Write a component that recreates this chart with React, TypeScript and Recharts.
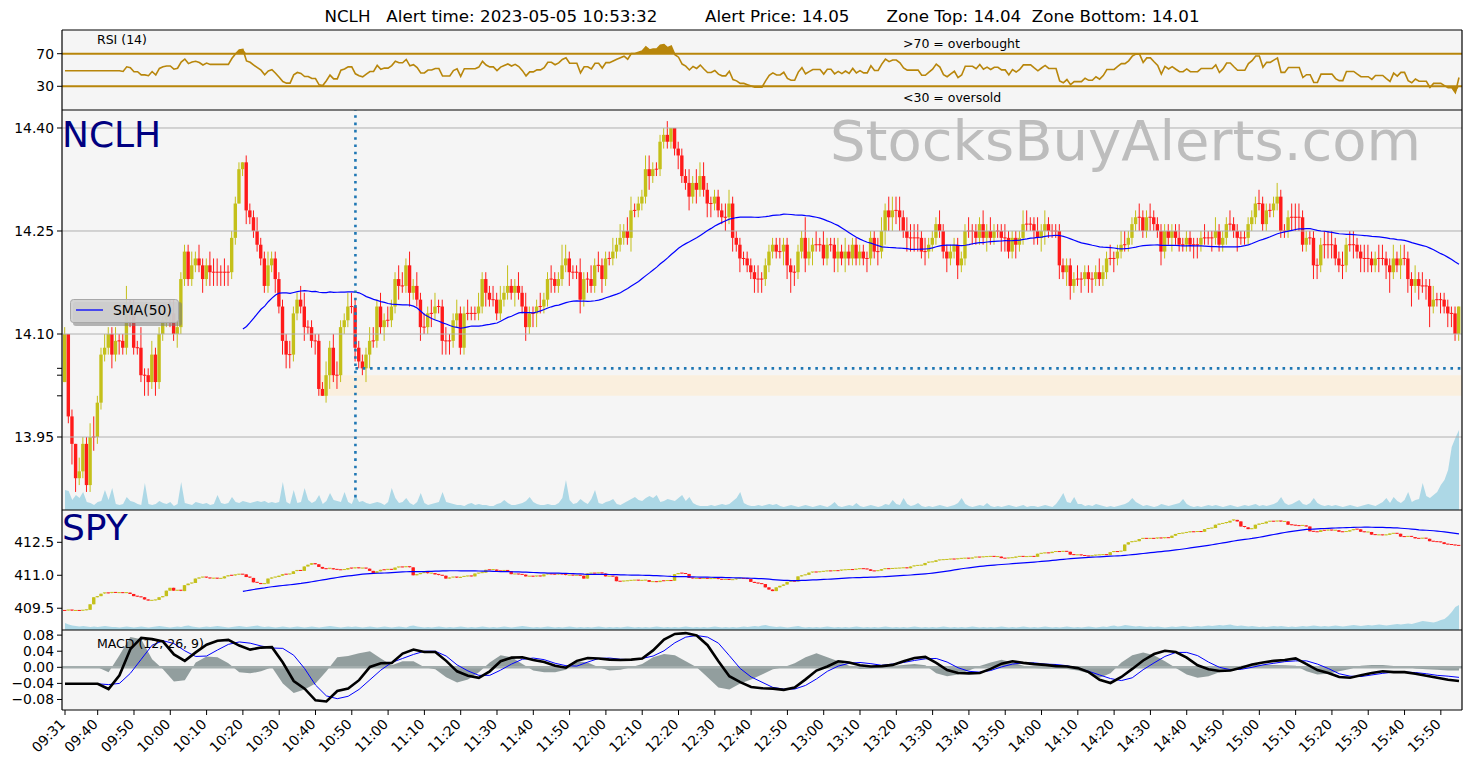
import React from 'react';
import { ComposedChart, Bar, Line, Area, XAxis, YAxis, ReferenceLine, ReferenceArea } from 'recharts';

// ---- values ----
const TIME_TICKS = ['09:31', '09:40', '09:50', '10:00', '10:10', '10:20', '10:30', '10:40', '10:50', '11:00', '11:10', '11:20', '11:30', '11:40', '11:50', '12:00', '12:10', '12:20', '12:30', '12:40', '12:50', '13:00', '13:10', '13:20', '13:30', '13:40', '13:50', '14:00', '14:10', '14:20', '14:30', '14:40', '14:50', '15:00', '15:10', '15:20', '15:30', '15:40', '15:50'];

// NCLH one-minute closes, cents above 14.00 (open = previous close)
const NC_OPEN_FIRST = 3;
const NC_CLOSE = [
  10, -2, -6, -11, -10, -6, -12, -5, -5, 0,
  7, 8, 10, 7, 9, 9, 8, 14, 13, 8,
  8, 4, 4, 3, 7, 3, 10, 12, 13, 13,
  10, 11, 18, 22, 18, 20, 21, 20, 18, 20,
  19, 19, 19, 19, 19, 19, 24, 29, 34, 35,
  28, 27, 25, 23, 21, 17, 20, 21, 18, 14,
  9, 7, 7, 13, 15, 14, 11, 11, 9, 9,
  2, 1, 4, 8, 4, 4, 11, 12, 14, 14,
  8, 6, 5, 7, 9, 9, 14, 11, 12, 12,
  14, 18, 17, 17, 20, 16, 17, 15, 11, 11,
  13, 13, 14, 14, 9, 9, 9, 12, 13, 8,
  13, 13, 13, 13, 14, 18, 16, 15, 15, 13,
  15, 16, 17, 16, 17, 16, 14, 11, 13, 13,
  14, 14, 15, 18, 18, 17, 18, 20, 21, 19,
  19, 19, 15, 18, 18, 17, 20, 20, 18, 21,
  21, 22, 23, 24, 25, 24, 28, 28, 29, 30,
  34, 33, 34, 34, 38, 39, 38, 40, 37, 36,
  33, 32, 30, 32, 31, 33, 31, 29, 29, 30,
  28, 27, 27, 29, 24, 23, 21, 21, 20, 19,
  18, 18, 18, 20, 22, 23, 22, 22, 23, 20,
  19, 19, 22, 24, 21, 22, 23, 23, 23, 21,
  23, 23, 21, 22, 21, 22, 21, 23, 21, 22,
  21, 21, 24, 22, 22, 25, 28, 27, 28, 28,
  27, 25, 24, 24, 24, 24, 22, 22, 23, 24,
  26, 25, 22, 21, 22, 23, 20, 21, 25, 25,
  25, 24, 26, 24, 25, 24, 25, 25, 24, 24,
  22, 24, 23, 24, 26, 26, 26, 25, 24, 25,
  26, 25, 25, 25, 20, 19, 20, 17, 18, 18,
  18, 19, 18, 18, 19, 18, 19, 21, 21, 21,
  22, 23, 23, 24, 26, 27, 27, 25, 27, 27,
  26, 25, 22, 25, 24, 25, 24, 23, 23, 24,
  23, 23, 23, 24, 24, 24, 24, 25, 23, 24,
  26, 26, 25, 24, 24, 24, 26, 27, 29, 29,
  26, 28, 28, 29, 30, 25, 25, 27, 27, 27,
  27, 23, 24, 24, 20, 20, 23, 23, 23, 23,
  21, 20, 20, 23, 23, 23, 22, 21, 21, 21,
  20, 21, 21, 21, 20, 19, 21, 20, 21, 21,
  18, 17, 18, 17, 17, 17, 14, 15, 15, 15,
  14, 13, 13, 10, 14,
];
// upper / lower wick beyond the body, cents
const NC_HI = [
  1, 0, 1, 0, 2, 1, 1, 2, 3, 1, 1, 2, 1, 1, 2, 1, 1, 3, 1, 2,
  1, 3, 1, 1, 2, 1, 1, 2, 1, 2, 2, 1, 1, 1, 1, 2, 1, 2, 1, 1,
  2, 2, 2, 1, 2, 1, 1, 1, 1, 0, 1, 1, 1, 2, 1, 1, 2, 1, 1, 1,
  1, 1, 2, 1, 1, 2, 2, 1, 1, 1, 1, 1, 2, 1, 2, 2, 1, 1, 2, 2,
  1, 1, 1, 1, 2, 2, 1, 2, 1, 2, 1, 1, 2, 2, 1, 2, 1, 2, 1, 2,
  1, 2, 2, 1, 1, 2, 1, 1, 2, 1, 1, 2, 1, 1, 2, 1, 1, 1, 2, 1,
  2, 1, 3, 1, 1, 2, 1, 2, 1, 1, 1, 2, 1, 1, 2, 1, 1, 3, 2, 1,
  1, 1, 2, 1, 1, 2, 1, 2, 1, 1, 1, 2, 1, 2, 1, 2, 2, 1, 1, 1,
  2, 2, 1, 1, 1, 1, 2, 0, 0, 1, 1, 1, 2, 1, 2, 2, 2, 1, 1, 1,
  1, 1, 2, 2, 1, 1, 1, 1, 1, 1, 1, 2, 1, 1, 1, 1, 1, 2, 1, 1,
  1, 1, 1, 1, 3, 2, 1, 2, 1, 2, 1, 1, 1, 2, 1, 2, 1, 1, 1, 1,
  1, 1, 1, 1, 2, 2, 1, 2, 2, 2, 2, 1, 2, 2, 2, 2, 1, 2, 1, 1,
  1, 2, 1, 1, 1, 1, 1, 1, 1, 2, 1, 1, 1, 2, 1, 2, 1, 1, 1, 2,
  1, 1, 1, 1, 2, 2, 1, 1, 2, 1, 2, 1, 1, 1, 1, 1, 1, 1, 1, 2,
  1, 1, 1, 1, 1, 2, 1, 1, 2, 1, 1, 2, 2, 1, 1, 1, 2, 1, 1, 2,
  1, 1, 1, 1, 1, 1, 1, 2, 1, 1, 1, 1, 1, 1, 2, 1, 1, 2, 1, 1,
  1, 2, 1, 1, 1, 1, 1, 1, 1, 2, 1, 1, 1, 1, 2, 1, 1, 1, 2, 2,
  2, 1, 1, 1, 1, 1, 1, 2, 2, 2, 1, 1, 2, 1, 2, 2, 1, 1, 2, 2,
  1, 1, 2, 2, 1, 1, 2, 1, 2, 2, 1, 1, 2, 1, 2, 1, 1, 2, 1, 1,
  1, 1, 1, 1, 0,
];
const NC_LO = [
  0, 1, 3, 2, 1, 1, 1, 1, 2, 1, 1, 1, 1, 2, 1, 2, 1, 1, 2, 1,
  1, 1, 3, 2, 1, 2, 1, 1, 1, 2, 1, 2, 1, 1, 1, 1, 1, 1, 2, 1,
  2, 2, 2, 2, 2, 2, 1, 1, 0, 1, 2, 1, 1, 1, 1, 1, 1, 1, 2, 1,
  2, 2, 2, 1, 1, 1, 2, 1, 1, 2, 1, 0, 1, 2, 1, 2, 1, 1, 1, 1,
  2, 1, 1, 2, 2, 1, 1, 1, 2, 1, 1, 1, 2, 1, 1, 2, 1, 1, 2, 1,
  1, 2, 1, 1, 2, 2, 2, 1, 1, 1, 1, 1, 1, 1, 1, 1, 2, 1, 1, 1,
  1, 1, 1, 1, 2, 1, 1, 2, 1, 2, 2, 1, 1, 1, 2, 1, 1, 1, 1, 2,
  1, 1, 2, 1, 2, 1, 1, 1, 2, 1, 1, 1, 1, 1, 1, 1, 2, 1, 1, 1,
  1, 2, 1, 1, 1, 1, 1, 1, 1, 2, 1, 1, 2, 1, 2, 1, 1, 2, 2, 1,
  1, 1, 2, 1, 2, 1, 2, 1, 1, 1, 2, 2, 2, 1, 1, 1, 1, 1, 2, 2,
  3, 2, 1, 1, 2, 1, 2, 1, 1, 1, 1, 1, 2, 2, 1, 2, 1, 1, 1, 1,
  1, 2, 1, 1, 2, 1, 2, 2, 2, 2, 2, 1, 2, 2, 2, 2, 1, 2, 1, 1,
  1, 1, 1, 2, 1, 1, 2, 1, 1, 1, 2, 1, 1, 1, 2, 1, 1, 1, 2, 2,
  1, 1, 2, 1, 1, 1, 1, 2, 1, 2, 2, 1, 1, 1, 2, 1, 2, 2, 1, 1,
  2, 1, 2, 2, 1, 1, 1, 1, 1, 2, 1, 1, 1, 1, 1, 1, 2, 1, 1, 2,
  1, 1, 2, 1, 1, 2, 1, 1, 1, 1, 1, 2, 2, 1, 1, 1, 2, 1, 1, 1,
  1, 1, 1, 2, 1, 1, 1, 1, 1, 1, 1, 1, 1, 1, 1, 1, 1, 1, 2, 2,
  2, 1, 1, 1, 2, 2, 1, 2, 2, 2, 1, 1, 2, 1, 1, 2, 1, 2, 2, 2,
  1, 1, 2, 1, 2, 3, 1, 1, 2, 1, 2, 3, 1, 2, 1, 2, 3, 1, 1, 2,
  1, 2, 2, 1, 1,
];
// NCLH volume, thousand shares
const NC_VOL = [
  100, 95, 50, 75, 60, 90, 40, 35, 25, 40, 45, 100, 50, 110, 30, 25, 30, 65, 45, 40,
  30, 25, 135, 30, 25, 30, 45, 35, 30, 40, 20, 30, 140, 35, 30, 25, 40, 35, 30, 35,
  25, 30, 75, 35, 30, 35, 65, 40, 35, 45, 40, 35, 40, 45, 40, 45, 35, 40, 35, 40,
  140, 40, 30, 100, 35, 40, 110, 50, 35, 45, 75, 30, 45, 85, 50, 45, 40, 90, 40, 30,
  75, 40, 45, 35, 30, 35, 40, 35, 25, 40, 110, 60, 35, 40, 60, 35, 25, 40, 85, 35,
  25, 30, 35, 40, 90, 40, 35, 30, 25, 25, 20, 30, 35, 25, 30, 25, 25, 20, 20, 30,
  35, 50, 35, 25, 25, 30, 35, 45, 65, 40, 30, 25, 25, 30, 25, 25, 35, 60, 150, 50,
  30, 35, 55, 40, 30, 55, 100, 35, 30, 40, 45, 55, 30, 25, 35, 45, 55, 65, 50, 45,
  60, 70, 60, 75, 40, 45, 55, 50, 45, 60, 75, 45, 65, 35, 25, 20, 20, 20, 25, 20,
  25, 30, 25, 30, 45, 60, 90, 35, 25, 20, 20, 25, 20, 25, 30, 25, 30, 20, 15, 20,
  25, 20, 15, 20, 25, 20, 15, 20, 25, 20, 15, 25, 40, 20, 15, 20, 25, 20, 35, 20,
  15, 20, 25, 20, 15, 20, 30, 25, 50, 30, 25, 60, 30, 20, 25, 35, 20, 15, 20, 15,
  20, 25, 20, 15, 20, 25, 35, 60, 30, 20, 15, 20, 25, 20, 35, 20, 15, 20, 15, 20,
  25, 20, 15, 20, 25, 15, 20, 20, 15, 20, 25, 20, 15, 30, 55, 85, 40, 35, 65, 30,
  30, 20, 25, 20, 30, 25, 20, 15, 20, 15, 20, 25, 30, 40, 60, 40, 30, 20, 25, 20,
  15, 20, 30, 25, 20, 25, 30, 35, 55, 30, 20, 15, 20, 15, 20, 25, 20, 25, 20, 15,
  20, 25, 20, 15, 20, 25, 20, 25, 30, 20, 25, 20, 25, 30, 40, 65, 35, 25, 30, 40,
  50, 30, 25, 35, 60, 35, 25, 20, 25, 20, 25, 20, 15, 20, 25, 20, 15, 20, 25, 30,
  25, 20, 30, 40, 60, 35, 65, 45, 35, 50, 90, 40, 50, 55, 135, 70, 60, 75, 90, 125,
  150, 200, 315, 360, 400,
];
// SPY one-minute closes, cents above 410.00
const SPY_OPEN_FIRST = -60;
const SPY_CLOSE = [
  -60, -58, -62, -60, -61, -59, -57, -32, 0, 5,
  16, 20, 18, 22, 20, 21, 19, 21, 15, 5,
  2, 0, -10, -15, -14, -12, 0, 5, 30, 43,
  30, 32, 28, 55, 62, 65, 85, 90, 92, 88,
  85, 87, 84, 86, 95, 100, 98, 102, 105, 104,
  92, 88, 68, 65, 60, 62, 85, 90, 92, 98,
  105, 104, 106, 118, 122, 120, 140, 148, 155, 150,
  138, 130, 128, 132, 127, 125, 124, 126, 133, 131,
  134, 132, 133, 130, 120, 110, 118, 125, 124, 127,
  125, 135, 138, 137, 139, 136, 100, 105, 110, 112,
  108, 110, 104, 100, 98, 85, 90, 92, 88, 93,
  95, 97, 95, 108, 110, 112, 125, 124, 126, 120,
  118, 122, 119, 105, 106, 104, 103, 95, 96, 94,
  97, 95, 104, 106, 105, 103, 106, 104, 100, 101,
  99, 100, 98, 85, 108, 110, 109, 111, 108, 95,
  96, 94, 73, 72, 74, 75, 77, 78, 76, 77,
  78, 70, 71, 69, 75, 74, 76, 75, 105, 110,
  108, 106, 88, 85, 86, 85, 86, 84, 85, 86,
  82, 80, 81, 79, 80, 84, 86, 85, 83, 70,
  65, 62, 60, 45, 35, 28, 45, 52, 58, 70,
  73, 72, 95, 100, 102, 112, 115, 114, 116, 118,
  120, 119, 121, 120, 124, 125, 126, 124, 128, 130,
  129, 127, 120, 119, 121, 128, 130, 129, 131, 132,
  133, 134, 132, 140, 143, 145, 146, 156, 160, 161,
  168, 170, 171, 172, 174, 173, 175, 177, 178, 176,
  181, 183, 182, 184, 185, 186, 184, 185, 178, 177,
  179, 180, 185, 186, 184, 185, 186, 184, 198, 200,
  202, 201, 207, 208, 206, 209, 207, 194, 192, 193,
  190, 188, 187, 189, 192, 193, 194, 192, 205, 208,
  207, 210, 240, 250, 253, 255, 265, 268, 267, 268,
  266, 270, 268, 271, 270, 280, 288, 290, 292, 295,
  298, 297, 299, 298, 310, 313, 315, 330, 335, 336,
  340, 348, 352, 345, 322, 318, 310, 312, 330, 335,
  336, 344, 346, 345, 347, 344, 345, 330, 328, 326,
  325, 327, 322, 300, 298, 297, 305, 303, 306, 304,
  305, 298, 297, 299, 305, 310, 309, 298, 296, 297,
  285, 283, 284, 282, 284, 290, 291, 289, 276, 275,
  277, 274, 268, 267, 269, 266, 255, 253, 252, 250,
  242, 240, 238, 236, 235,
];
// SPY volume, ten-thousand shares
const SPY_VOL = [
  70, 55, 45, 40, 35, 40, 35, 30, 35, 30, 35, 40, 35, 30, 30, 25, 30, 35, 30, 25,
  30, 35, 30, 25, 30, 35, 40, 35, 30, 25, 30, 35, 30, 40, 45, 35, 30, 25, 30, 35,
  30, 35, 40, 35, 30, 25, 30, 35, 40, 35, 30, 35, 40, 45, 35, 30, 35, 30, 25, 30,
  35, 30, 25, 30, 35, 30, 25, 30, 35, 30, 25, 30, 35, 40, 35, 30, 25, 30, 35, 30,
  35, 30, 25, 30, 35, 30, 25, 30, 35, 30, 25, 30, 35, 30, 25, 40, 45, 35, 30, 25,
  30, 25, 30, 35, 30, 25, 30, 25, 30, 35, 30, 25, 30, 25, 30, 35, 30, 25, 30, 25,
  30, 35, 30, 25, 30, 35, 40, 35, 30, 25, 30, 25, 30, 35, 30, 25, 30, 25, 30, 35,
  30, 25, 30, 25, 30, 25, 30, 35, 30, 25, 30, 25, 30, 25, 30, 35, 30, 25, 30, 25,
  30, 25, 30, 35, 30, 25, 30, 25, 30, 25, 30, 35, 30, 25, 30, 25, 30, 25, 30, 35,
  30, 25, 30, 25, 30, 25, 30, 35, 30, 35, 40, 35, 45, 50, 40, 35, 30, 35, 30, 25,
  30, 35, 40, 30, 25, 30, 25, 30, 25, 30, 35, 30, 25, 30, 25, 30, 25, 30, 35, 30,
  25, 30, 25, 30, 25, 30, 35, 30, 25, 30, 25, 30, 25, 30, 35, 30, 25, 30, 25, 30,
  25, 30, 35, 30, 25, 30, 25, 30, 25, 30, 35, 30, 25, 30, 25, 30, 25, 30, 35, 30,
  25, 30, 25, 30, 35, 30, 25, 30, 25, 30, 35, 30, 25, 30, 25, 30, 35, 30, 25, 30,
  25, 30, 35, 30, 25, 30, 35, 30, 40, 45, 35, 40, 50, 45, 40, 35, 40, 35, 30, 35,
  30, 35, 30, 25, 30, 35, 30, 35, 40, 35, 30, 35, 40, 35, 40, 45, 40, 45, 50, 45,
  50, 55, 45, 40, 45, 40, 35, 40, 35, 30, 35, 30, 35, 40, 35, 40, 35, 30, 35, 30,
  35, 40, 35, 40, 45, 40, 35, 40, 35, 40, 45, 40, 35, 40, 45, 50, 45, 40, 45, 50,
  45, 50, 55, 50, 45, 50, 55, 60, 55, 60, 65, 60, 70, 80, 90, 85, 80, 75, 85, 100,
  110, 140, 180, 230, 250,
];
// MACD (12, 26, 9) panel, read every 3 minutes from 09:31
const MACD_STEP = 3;
const MACD_LINE = [
  -0.041, -0.041, -0.041, -0.041, -0.054, -0.020, 0.045, 0.073, 0.070, 0.064,
  0.032, 0.016, 0.037, 0.056, 0.066, 0.068, 0.054, 0.044, 0.049, 0.050,
  0.012, -0.034, -0.053, -0.082, -0.085, -0.059, -0.053, -0.032, 0.001, 0.010,
  0.011, 0.034, 0.044, 0.038, 0.038, 0.016, -0.010, -0.021, -0.026, -0.010,
  0.015, 0.024, 0.025, 0.018, 0.013, 0.004, -0.001, 0.016, 0.023, 0.022,
  0.019, 0.018, 0.019, 0.022, 0.042, 0.069, 0.083, 0.085, 0.079, 0.055,
  0.015, -0.022, -0.037, -0.049, -0.052, -0.053, -0.056, -0.050, -0.030, -0.008,
  0.002, 0.015, 0.012, 0.005, 0.002, 0.003, 0.006, 0.015, 0.023, 0.026,
  0.011, -0.007, -0.014, -0.015, -0.014, -0.004, 0.009, 0.015, 0.011, 0.008,
  0.006, 0.003, 0.002, -0.002, -0.012, -0.031, -0.039, -0.024, -0.004, 0.017,
  0.033, 0.041, 0.038, 0.024, 0.005, -0.005, -0.009, -0.008, -0.001, 0.007,
  0.012, 0.016, 0.018, 0.022, 0.008, -0.007, -0.014, -0.024, -0.026, -0.020,
  -0.014, -0.010, -0.012, -0.012, -0.016, -0.021, -0.026, -0.031, -0.034,
];
const MACD_SIGNAL = [
  -0.041, -0.041, -0.041, -0.041, -0.043, -0.040, -0.015, 0.020, 0.055, 0.066,
  0.059, 0.041, 0.027, 0.028, 0.043, 0.057, 0.063, 0.060, 0.053, 0.048,
  0.047, 0.030, -0.003, -0.044, -0.071, -0.078, -0.072, -0.055, -0.031, -0.007,
  0.012, 0.022, 0.032, 0.040, 0.040, 0.028, 0.006, -0.009, -0.020, -0.020,
  -0.007, 0.008, 0.020, 0.023, 0.019, 0.010, 0.004, 0.003, 0.013, 0.022,
  0.023, 0.020, 0.019, 0.022, 0.028, 0.041, 0.061, 0.075, 0.079, 0.075,
  0.060, 0.029, -0.003, -0.024, -0.037, -0.050, -0.054, -0.054, -0.045, -0.029,
  -0.010, 0.003, 0.010, 0.012, 0.009, 0.005, 0.008, 0.012, 0.017, 0.021,
  0.022, 0.013, -0.001, -0.010, -0.012, -0.008, 0.001, 0.008, 0.011, 0.011,
  0.008, 0.007, 0.004, -0.002, -0.010, -0.019, -0.028, -0.033, -0.026, -0.006,
  0.011, 0.027, 0.037, 0.037, 0.029, 0.013, 0.000, -0.006, -0.005, 0.000,
  0.006, 0.010, 0.014, 0.016, 0.016, 0.008, -0.003, -0.016, -0.022, -0.023,
  -0.019, -0.015, -0.012, -0.012, -0.013, -0.016, -0.020, -0.022, -0.025,
];
const MACD_HIST = [
  0, 0, 0, 0, -0.012, 0.030, 0.075, 0.070, 0.020, -0.005,
  -0.035, -0.032, 0.012, 0.027, 0.025, 0.010, -0.012, -0.015, -0.010, 0,
  -0.040, -0.064, -0.055, -0.040, -0.010, 0.025, 0.028, 0.035, 0.040, 0.022,
  0.005, 0.015, 0.015, 0, -0.005, -0.025, -0.038, -0.030, -0.012, 0.012,
  0.030, 0.025, 0.008, -0.008, -0.012, -0.012, -0.006, 0.015, 0.012, 0,
  -0.008, -0.006, 0, 0.008, 0.025, 0.033, 0.030, 0.015, 0, -0.025,
  -0.050, -0.055, -0.040, -0.030, -0.018, -0.005, 0, 0.010, 0.025, 0.035,
  0.025, 0.015, 0.004, -0.004, -0.003, 0, 0.003, 0.006, 0.008, 0.005,
  -0.015, -0.022, -0.018, -0.008, 0.003, 0.012, 0.019, 0.012, 0.004, -0.002,
  -0.003, -0.003, -0.004, -0.008, -0.015, -0.026, -0.015, 0.012, 0.030, 0.037,
  0.030, 0.015, -0.002, -0.018, -0.026, -0.022, -0.012, -0.004, 0.004, 0.006,
  0.006, 0.006, 0.005, 0.004, -0.010, -0.018, -0.016, -0.010, -0.004, 0.004,
  0.006, 0.006, 0.003, 0.002, -0.003, -0.005, -0.006, -0.008, -0.008,
];

const NC_PRICE_TICKS = [13.95, 14.1, 14.25, 14.4];
const NC_MARK_TICKS = [14.01, 14.04, 14.05];
const SPY_TICKS = [409.5, 411, 412.5];
const MACD_TICKS = [-0.08, -0.04, 0, 0.04, 0.08];
const RSI_TICKS = [30, 70];
const ALERT_IDX = 80;
const ALERT_PRICE = 14.05;
const ZONE_TOP = 14.04;
const ZONE_BOTTOM = 14.01;
const ZONE_FROM = 70;

// ---- look ----
const UP = '#c4c01a';
const DOWN = '#ff1a1a';
const GOLD = '#b8860b';
const PANEL = '#f5f5f5';
const FS = 13.9;
const W = 1476;
const X_DOMAIN: [number, number] = [-0.83, 384.83];
const MARGIN = { top: 0, right: 14, bottom: 0, left: 0 };

// ---- indicators ----
const mean = (a: number[]) => a.reduce((s, v) => s + v, 0) / a.length;
const sma = (v: number[], n: number) => v.map((_, i) => (i < n - 1 ? undefined : mean(v.slice(i - n + 1, i + 1))));
const rsiOf = (v: number[], n: number) => {
  const out: number[] = new Array(v.length).fill(0);
  let g = 0;
  let l = 0;
  for (let i = 1; i <= n; i++) {
    const d = v[i] - v[i - 1];
    if (d > 0) g += d; else l -= d;
  }
  g /= n;
  l /= n;
  out[n] = l === 0 ? 100 : 100 - 100 / (1 + g / l);
  for (let i = n + 1; i < v.length; i++) {
    const d = v[i] - v[i - 1];
    g = (g * (n - 1) + Math.max(d, 0)) / n;
    l = (l * (n - 1) + Math.max(-d, 0)) / n;
    out[i] = l === 0 ? 100 : 100 - 100 / (1 + g / l);
  }
  for (let i = 0; i < n; i++) out[i] = out[n];
  return out;
};

const ncClose = NC_CLOSE.map((c) => 14 + c / 100);
const spyClose = SPY_CLOSE.map((c) => 410 + c / 100);
const ncSma = sma(ncClose, 50);
const spySma = sma(spyClose, 50);
const rsi = rsiOf(ncClose, 14);

const data = NC_CLOSE.map((c, i) => {
  const nO = 14 + (i ? NC_CLOSE[i - 1] : NC_OPEN_FIRST) / 100;
  const nC = ncClose[i];
  const sO = 410 + (i ? SPY_CLOSE[i - 1] : SPY_OPEN_FIRST) / 100;
  const sC = spyClose[i];
  const k = i % MACD_STEP === 0 ? i / MACD_STEP : -1;
  return {
    i,
    nO, nC,
    nH: Math.max(nO, nC) + NC_HI[i] / 100,
    nL: Math.min(nO, nC) - NC_LO[i] / 100,
    vol: NC_VOL[i],
    sma: ncSma[i],
    sO, sC,
    sH: Math.max(sO, sC),
    sL: Math.min(sO, sC),
    svol: SPY_VOL[i],
    ssma: spySma[i],
    rsi: rsi[i],
    macd: k >= 0 ? MACD_LINE[k] : undefined,
    sig: k >= 0 ? MACD_SIGNAL[k] : undefined,
    hist: k >= 0 ? MACD_HIST[k] : undefined,
  };
});

const toMin = (t: string) => {
  const [h, m] = t.split(':').map(Number);
  return h * 60 + m - (9 * 60 + 31);
};
const TICK_IDX = TIME_TICKS.map(toMin);

const candle = (k: string) => (props: any) => {
  const { x, y, width, height, payload } = props;
  const o = payload[k + 'O'];
  const c = payload[k + 'C'];
  const h = payload[k + 'H'];
  const l = payload[k + 'L'];
  const mid = x + width / 2;
  const col = c > o ? UP : DOWN;
  const span = h - l;
  const py = (v: number) => (span > 0 ? y + ((h - v) / span) * height : y);
  const top = py(Math.max(o, c));
  const bot = py(Math.min(o, c));
  const bh = Math.max(bot - top, 1);
  return (
    <g>
      {span > 0 && <line x1={mid} x2={mid} y1={y} y2={y + height} stroke={col} strokeWidth={1} />}
      <rect x={mid - 1.7} y={bot - top < 1 ? top - 0.5 : top} width={3.4} height={bh} fill={col} />
    </g>
  );
};

const yTick = (fmt: (v: number) => string, show?: number[]) => (p: any) => {
  const v = p.payload.value;
  if (show && !show.includes(v)) return <g />;
  return (
    <text x={p.x} y={p.y} dy="0.35em" textAnchor="end" fontSize={FS} fill="#000">
      {fmt(v)}
    </text>
  );
};

const timeTick = (p: any) => {
  const idx = TICK_IDX.indexOf(p.payload.value);
  const x = p.x + 1;
  const y = p.y + 8;
  return (
    <text x={x} y={y} textAnchor="end" fontSize={FS} fill="#000" transform={`rotate(-45 ${x} ${y})`}>
      {TIME_TICKS[idx]}
    </text>
  );
};

const minus = (v: number) => (v < 0 ? '\u2212' + Math.abs(v).toFixed(2) : v.toFixed(2));

const hiddenX = <XAxis type="number" dataKey="i" domain={X_DOMAIN} allowDataOverflow hide />;
const tickX = (
  <XAxis type="number" dataKey="i" domain={X_DOMAIN} allowDataOverflow ticks={TICK_IDX} interval={0}
    tick={false} tickSize={5} tickLine={{ stroke: '#000' }} axisLine={false} height={0} />
);
const yAxisStyle = { width: 62, tickSize: 5, tickMargin: 3, interval: 0 as const, axisLine: false, tickLine: { stroke: '#000' } };

const Panel = ({ top, height }: { top: number; height: number }) => (
  <div style={{ position: 'absolute', left: 62, top, width: 1400, height, background: PANEL }} />
);

export default function App() {
  const panels = [30, 110, 510, 630, 710];
  return (
    <div style={{ position: 'absolute', left: 0, top: 0, width: W, height: 768, background: '#fff', fontFamily: '"DejaVu Sans", sans-serif', overflow: 'hidden' }}>
      <Panel top={30} height={80} />
      <Panel top={110} height={400} />
      <Panel top={510} height={120} />
      <Panel top={630} height={80} />

      {/* RSI */}
      <div style={{ position: 'absolute', left: 0, top: 20 }}>
        <ComposedChart width={W} height={90} data={data} margin={{ ...MARGIN, top: 10 }}>
          {hiddenX}
          <YAxis domain={[0.9, 99.1]} allowDataOverflow ticks={RSI_TICKS} {...yAxisStyle} tick={yTick((v) => String(v))} />
          <ReferenceLine y={70} stroke={GOLD} strokeWidth={2} />
          <ReferenceLine y={30} stroke={GOLD} strokeWidth={2} />
          <Area dataKey={(d: any) => [70, Math.max(70, d.rsi)]} fill={GOLD} fillOpacity={1} stroke="none" isAnimationActive={false} />
          <Area dataKey={(d: any) => [Math.min(30, d.rsi), 30]} fill={GOLD} fillOpacity={1} stroke="none" isAnimationActive={false} />
          <Line dataKey="rsi" stroke={GOLD} strokeWidth={1.6} dot={false} isAnimationActive={false} />
        </ComposedChart>
      </div>

      {/* NCLH */}
      <div style={{ position: 'absolute', left: 0, top: 110 }}>
        <ComposedChart width={W} height={400} data={data} margin={MARGIN}>
          {hiddenX}
          <YAxis domain={[13.8437, 14.4262]} allowDataOverflow ticks={[...NC_PRICE_TICKS, ...NC_MARK_TICKS]} {...yAxisStyle}
            tick={yTick((v) => v.toFixed(2), NC_PRICE_TICKS)} />
          <YAxis yAxisId="vol" domain={[0, 2000]} hide />
          {NC_PRICE_TICKS.map((t) => (
            <ReferenceLine key={t} y={t} stroke="#b0b0b0" strokeWidth={1} />
          ))}
          <ReferenceArea x1={ZONE_FROM} x2={X_DOMAIN[1]} y1={ZONE_BOTTOM} y2={ZONE_TOP} fill="#fbeedc" fillOpacity={0.9} stroke="none" />
          <Area yAxisId="vol" dataKey="vol" type="linear" fill="#add8e6" fillOpacity={1} stroke="none" isAnimationActive={false} />
          <Bar dataKey={(d: any) => [d.nL, d.nH]} barSize={3} shape={candle('n')} isAnimationActive={false} />
          <Line dataKey="sma" stroke="#0000ff" strokeWidth={1.2} dot={false} isAnimationActive={false} />
          <ReferenceLine segment={[{ x: ALERT_IDX, y: 13.862 }, { x: ALERT_IDX, y: 14.4262 }]}
            stroke="#1f77b4" strokeWidth={2.6} strokeDasharray="2.6 4.7" />
          <ReferenceLine segment={[{ x: ALERT_IDX, y: ALERT_PRICE }, { x: X_DOMAIN[1], y: ALERT_PRICE }]}
            stroke="#1f77b4" strokeWidth={2.6} strokeDasharray="2.6 4.7" />
        </ComposedChart>
      </div>

      {/* SPY */}
      <div style={{ position: 'absolute', left: 0, top: 510 }}>
        <ComposedChart width={W} height={126} data={data} margin={{ ...MARGIN, bottom: 6 }}>
          {tickX}
          <YAxis domain={[408.51, 413.97]} allowDataOverflow ticks={SPY_TICKS} {...yAxisStyle} tick={yTick((v) => v.toFixed(1))} />
          <YAxis yAxisId="vol" domain={[0, 1200]} hide />
          <Area yAxisId="vol" dataKey="svol" type="linear" fill="#add8e6" fillOpacity={1} stroke="none" isAnimationActive={false} />
          <Bar dataKey={(d: any) => [d.sL, d.sH]} barSize={3} shape={candle('s')} isAnimationActive={false} />
          <Line dataKey="ssma" stroke="#0000ff" strokeWidth={1.2} dot={false} isAnimationActive={false} />
        </ComposedChart>
      </div>

      {/* MACD */}
      <div style={{ position: 'absolute', left: 0, top: 620 }}>
        <ComposedChart width={W} height={148} data={data} margin={{ ...MARGIN, top: 10 }}>
          <XAxis type="number" dataKey="i" domain={X_DOMAIN} allowDataOverflow ticks={TICK_IDX} interval={0}
            tick={timeTick} tickSize={5} tickLine={{ stroke: '#000' }} axisLine={false} height={58} />
          <YAxis domain={[-0.1061, 0.0927]} allowDataOverflow ticks={MACD_TICKS} {...yAxisStyle} tick={yTick(minus)} />
          <ReferenceLine y={0} stroke="#a3adad" strokeWidth={2.4} />
          <Area dataKey="hist" baseValue={0} type="linear" connectNulls fill="#708080" fillOpacity={0.75} stroke="none" isAnimationActive={false} />
          <Line dataKey="sig" connectNulls stroke="#0000ff" strokeWidth={1} dot={false} isAnimationActive={false} />
          <Line dataKey="macd" connectNulls stroke="#000" strokeWidth={2.6} dot={false} isAnimationActive={false} />
        </ComposedChart>
      </div>

      {/* frames, titles, labels */}
      <svg width={W} height={768} style={{ position: 'absolute', left: 0, top: 0, pointerEvents: 'none' }}>
        <text x={762} y={22} textAnchor="middle" fontSize={16.7} style={{ whiteSpace: 'pre' }}>
          {'NCLH   Alert time: 2023-05-05 10:53:32         Alert Price: 14.05       Zone Top: 14.04  Zone Bottom: 14.01'}
        </text>
        <text x={97} y={44} fontSize={12.5}>RSI (14)</text>
        <text x={903} y={48} fontSize={12.5}>{'>70 = overbought'}</text>
        <text x={903} y={102} fontSize={12.5}>{'<30 = oversold'}</text>
        <text x={97} y={648} fontSize={12.5}>MACD (12, 26, 9)</text>
        <text x={62} y={147} fontSize={36} fill="#000080">NCLH</text>
        <text x={62} y={540} fontSize={36} fill="#000080">SPY</text>
        <text x={830} y={160} fontSize={56} fill="#bdbdbd">StocksBuyAlerts.com</text>

        <rect x={73} y={302} width={109} height={24} rx={3} fill="#7a7a7a" fillOpacity={0.55} />
        <rect x={70.5} y={299.5} width={108} height={23} rx={3} fill="#cfcfcf" fillOpacity={0.9} stroke="#a8a8a8" />
        <line x1={76} x2={103} y1={310} y2={310} stroke="#0000ff" strokeWidth={1.3} />
        <text x={113} y={315} fontSize={13.9}>SMA(50)</text>

        {panels.map((y) => (
          <line key={y} x1={62} x2={1462} y1={y} y2={y} stroke="#000" strokeWidth={1.2} />
        ))}
        <line x1={62} x2={62} y1={30} y2={710} stroke="#000" strokeWidth={1.2} />
        <line x1={1462} x2={1462} y1={30} y2={710} stroke="#000" strokeWidth={1.2} />
      </svg>
    </div>
  );
}
